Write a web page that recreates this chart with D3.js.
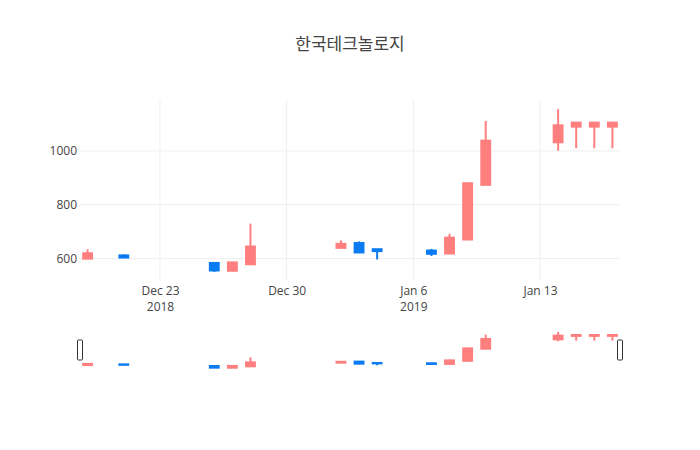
<!DOCTYPE html>
<html>
<head>
<meta charset="utf-8">
<script src="https://cdn.jsdelivr.net/npm/d3@7"></script>
<style>
  html, body { margin: 0; padding: 0; background: #fff; }
  svg { display: block; font-family: "Open Sans", "Noto Sans CJK KR", sans-serif; }
</style>
</head>
<body>
<svg id="chart" width="700" height="450"></svg>
<script>
// ---- data ----
const title = "한국테크놀로지";
const dates = ["2018-12-19","2018-12-21","2018-12-26","2018-12-27","2018-12-28",
               "2019-01-02","2019-01-03","2019-01-04","2019-01-07","2019-01-08",
               "2019-01-09","2019-01-10","2019-01-14","2019-01-15","2019-01-16","2019-01-17"];
const open  = [600, 612, 584, 555, 579, 640, 658, 635, 630, 619, 671, 874, 1032, 1090, 1090, 1090];
const high  = [635, 616, 584, 586, 730, 668, 664, 636, 636, 692, 880, 1111, 1155, 1105, 1105, 1105];
const low   = [598, 603, 551, 555, 579, 640, 623, 597, 610, 618, 671, 874, 1001, 1010, 1010, 1010];
const close = [620, 604, 556, 586, 645, 655, 623, 628, 618, 678, 880, 1038, 1095, 1105, 1105, 1105];
const yTicks = [600, 800, 1000];
const xTicks = ["2018-12-23", "2018-12-30", "2019-01-06", "2019-01-13"];
const xTickLabels = [["Dec 23", "2018"], ["Dec 30"], ["Jan 6", "2019"], ["Jan 13"]];

const upColor = "#ff7f7f";
const downColor = "#0a7bf2";

// ---- layout ----
const W = 700, H = 450;
const L = 80, R = 620;
const mainTop = 100, mainBottom = 281;
const slTop = 330, slBottom = 370;
const DAY = 864e5;
const parse = d3.utcParse("%Y-%m-%d");

const data = dates.map((d, i) => ({
  date: parse(d), o: open[i], h: high[i], l: low[i], c: close[i]
}));

const pad = 0.42 * DAY;
const xDomain = [new Date(+data[0].date - pad), new Date(+data[data.length - 1].date + pad)];
const x = d3.scaleUtc().domain(xDomain).range([L, R]);
const y = d3.scaleLinear().domain([517, 1189]).range([mainBottom, mainTop]);
const ySl = d3.scaleLinear().domain([517, 1189]).range([slBottom, slTop]);

const svg = d3.select("#chart");

// title
svg.append("text")
  .attr("x", W / 2).attr("y", 50)
  .attr("text-anchor", "middle")
  .attr("font-size", 17).attr("fill", "#444")
  .text(title);

// grid
const grid = svg.append("g");
grid.selectAll("line.gx").data(xTicks).join("line")
  .attr("x1", d => x(parse(d))).attr("x2", d => x(parse(d)))
  .attr("y1", mainTop).attr("y2", mainBottom)
  .attr("stroke", "#eee").attr("stroke-width", 1);
grid.selectAll("line.gy").data(yTicks).join("line")
  .attr("x1", L).attr("x2", R)
  .attr("y1", d => y(d)).attr("y2", d => y(d))
  .attr("stroke", "#eee").attr("stroke-width", 1);

// y axis
const yAxis = d3.axisLeft(y).tickValues(yTicks).tickSize(0).tickPadding(3).tickFormat(d3.format("d"));
const gy = svg.append("g").attr("transform", `translate(${L},0)`).call(yAxis);
gy.select(".domain").remove();
gy.selectAll("text").attr("font-size", 12).attr("fill", "#444").attr("font-family", "Open Sans");

// x axis
const xAxis = d3.axisBottom(x).tickValues(xTicks.map(parse)).tickSize(0).tickFormat("");
const gx = svg.append("g").attr("transform", `translate(0,${mainBottom})`).call(xAxis);
gx.select(".domain").remove();
gx.selectAll(".tick").each(function(d, i) {
  const t = d3.select(this).select("text").text(null)
    .attr("font-size", 12).attr("fill", "#444").attr("font-family", "Open Sans").attr("y", 0).attr("dy", null);
  xTickLabels[i].forEach((s, j) => {
    t.append("tspan").attr("x", 0).attr("y", 14 + j * 16).text(s);
  });
});

// candles
function drawCandles(g, ys) {
  const bw = 0.6 * (x(new Date(DAY)) - x(new Date(0)));
  const c = g.selectAll("g.candle").data(data).join("g").attr("class", "candle");
  c.each(function(d) {
    const gg = d3.select(this);
    const col = d.c >= d.o ? upColor : downColor;
    const cx = x(d.date);
    const top = ys(Math.max(d.o, d.c)), bot = ys(Math.min(d.o, d.c));
    gg.append("line")
      .attr("x1", cx).attr("x2", cx)
      .attr("y1", ys(d.h)).attr("y2", ys(d.l))
      .attr("stroke", col).attr("stroke-width", 2);
    gg.append("rect")
      .attr("x", cx - bw / 2 + 1).attr("width", bw - 2)
      .attr("y", top).attr("height", Math.max(bot - top, 0))
      .attr("fill", col).attr("stroke", col).attr("stroke-width", 2);
  });
}

drawCandles(svg.append("g"), y);

// range slider
const sl = svg.append("g");
sl.append("rect").attr("x", L).attr("y", slTop).attr("width", R - L).attr("height", slBottom - slTop)
  .attr("fill", "#fff");
drawCandles(sl.append("g"), ySl);
const hy = (slTop + slBottom) / 2;
[L, R].forEach(hx => {
  sl.append("rect")
    .attr("x", hx - 2.5).attr("y", hy - 10)
    .attr("width", 5).attr("height", 20)
    .attr("rx", 1).attr("ry", 1)
    .attr("fill", "#fff").attr("stroke", "#333").attr("stroke-width", 1);
});
</script>
</body>
</html>
